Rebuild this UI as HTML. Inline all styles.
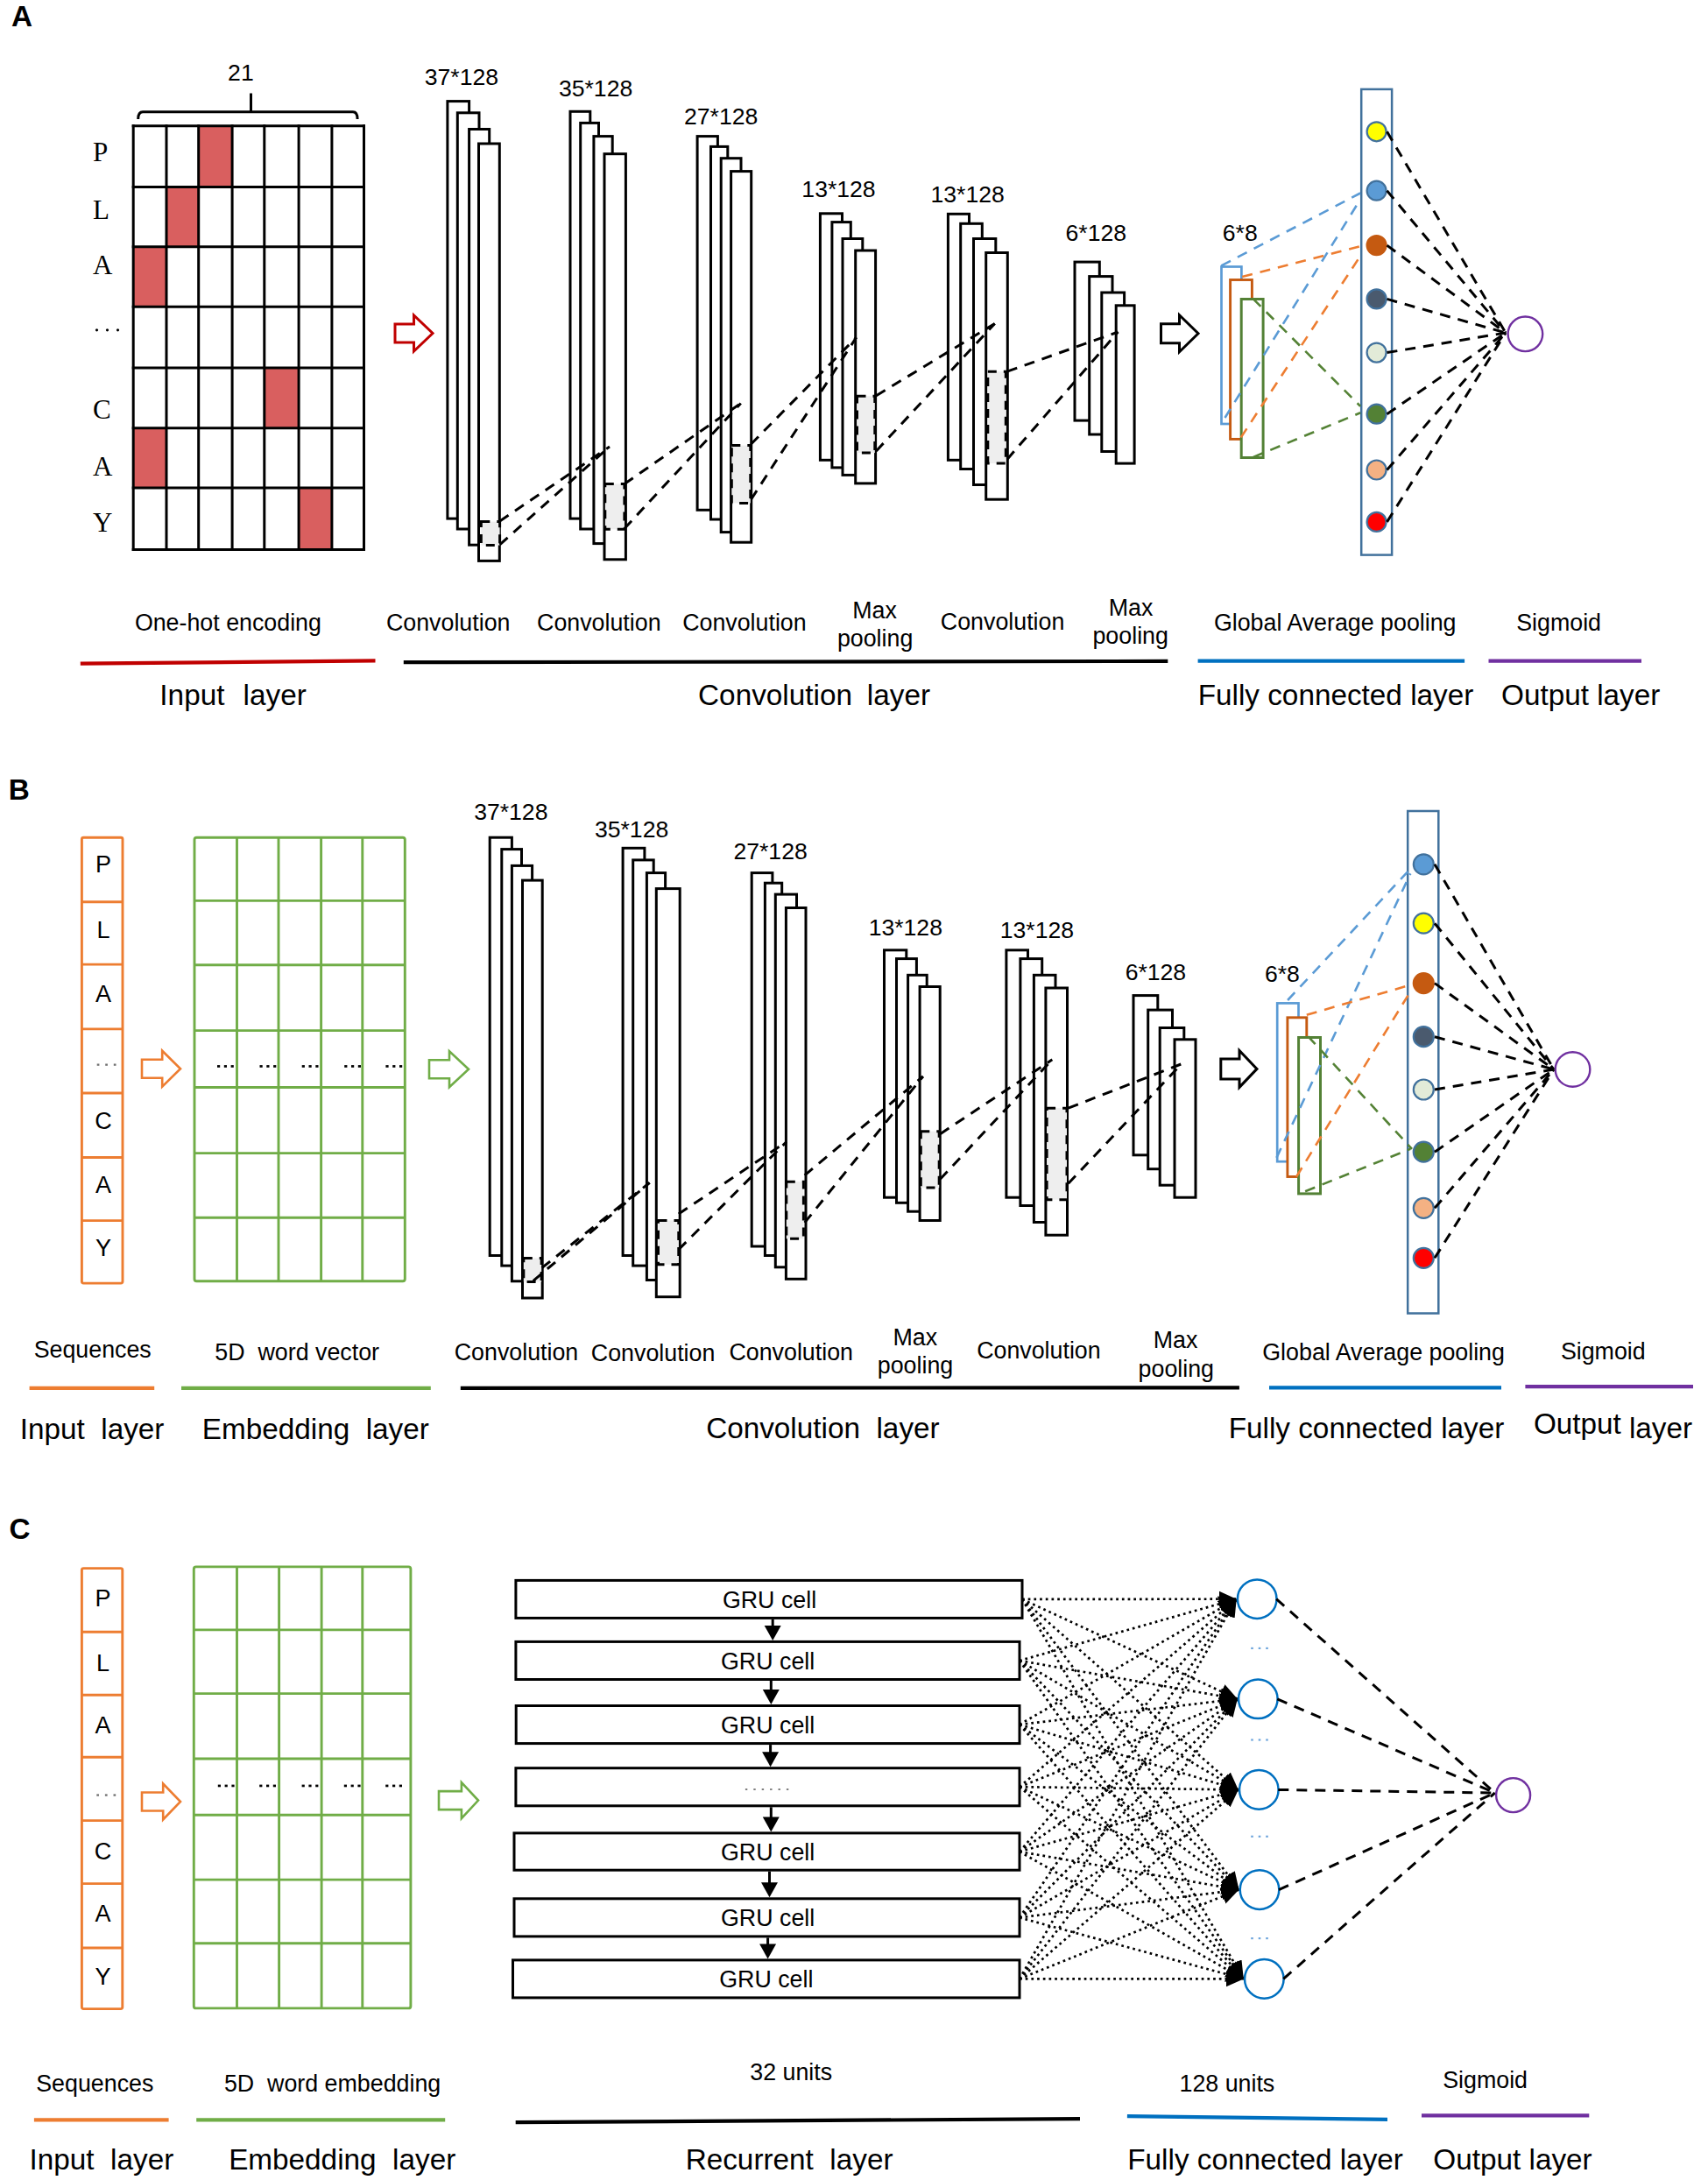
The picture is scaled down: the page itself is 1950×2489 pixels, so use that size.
<!DOCTYPE html>
<html><head><meta charset="utf-8"><title>Model architecture</title>
<style>html,body{margin:0;padding:0;background:#fff;}svg{display:block;}</style>
</head><body>
<svg width="1950" height="2489" viewBox="0 0 1950 2489" stroke-linecap="butt">
<defs><marker id="ah" markerUnits="userSpaceOnUse" viewBox="-20 -10 20 20" markerWidth="20" markerHeight="20" refX="0" refY="0" orient="auto"><path d="M0 0 L-20 -9 L-20 9 Z" fill="#000"/></marker></defs>
<rect width="1950" height="2489" fill="#fff"/>
<text x="24.9" y="29.9" font-size="33.3" text-anchor="middle" font-family='"Liberation Sans", sans-serif' fill="#000" font-weight="bold" >A</text>
<text x="274.9" y="91.8" font-size="26.6" text-anchor="middle" font-family='"Liberation Sans", sans-serif' fill="#000" >21</text>
<path d="M157.7 136 Q157.7 127.7 163 127.7 L403 127.7 Q408.1 127.7 408.1 136" fill="none" stroke="#000" stroke-width="3" />
<line x1="286.5" y1="106.5" x2="286.5" y2="128" stroke="#000" stroke-width="3" />
<rect x="226.7" y="143.8" width="38.4" height="69.7" fill="#d95f5f"/>
<rect x="190" y="213.5" width="36.7" height="68.2" fill="#d95f5f"/>
<rect x="152.2" y="281.7" width="37.8" height="68.5" fill="#d95f5f"/>
<rect x="301.8" y="420.1" width="39.3" height="68.7" fill="#d95f5f"/>
<rect x="152.2" y="488.8" width="37.8" height="68.1" fill="#d95f5f"/>
<rect x="341.1" y="556.9" width="37.8" height="70.5" fill="#d95f5f"/>
<line x1="152.2" y1="142.3" x2="152.2" y2="628.9" stroke="#000" stroke-width="3" />
<line x1="190" y1="142.3" x2="190" y2="628.9" stroke="#000" stroke-width="3" />
<line x1="226.7" y1="142.3" x2="226.7" y2="628.9" stroke="#000" stroke-width="3" />
<line x1="265.1" y1="142.3" x2="265.1" y2="628.9" stroke="#000" stroke-width="3" />
<line x1="301.8" y1="142.3" x2="301.8" y2="628.9" stroke="#000" stroke-width="3" />
<line x1="341.1" y1="142.3" x2="341.1" y2="628.9" stroke="#000" stroke-width="3" />
<line x1="378.9" y1="142.3" x2="378.9" y2="628.9" stroke="#000" stroke-width="3" />
<line x1="415.5" y1="142.3" x2="415.5" y2="628.9" stroke="#000" stroke-width="3" />
<line x1="150.7" y1="143.8" x2="417" y2="143.8" stroke="#000" stroke-width="3" />
<line x1="150.7" y1="213.5" x2="417" y2="213.5" stroke="#000" stroke-width="3" />
<line x1="150.7" y1="281.7" x2="417" y2="281.7" stroke="#000" stroke-width="3" />
<line x1="150.7" y1="350.2" x2="417" y2="350.2" stroke="#000" stroke-width="3" />
<line x1="150.7" y1="420.1" x2="417" y2="420.1" stroke="#000" stroke-width="3" />
<line x1="150.7" y1="488.8" x2="417" y2="488.8" stroke="#000" stroke-width="3" />
<line x1="150.7" y1="556.9" x2="417" y2="556.9" stroke="#000" stroke-width="3" />
<line x1="150.7" y1="627.4" x2="417" y2="627.4" stroke="#000" stroke-width="3" />
<text x="106" y="184" font-size="31" text-anchor="start" font-family='"Liberation Serif", serif' fill="#000" >P</text>
<text x="106" y="249.5" font-size="31" text-anchor="start" font-family='"Liberation Serif", serif' fill="#000" >L</text>
<text x="106" y="313.3" font-size="31" text-anchor="start" font-family='"Liberation Serif", serif' fill="#000" >A</text>
<text x="106" y="478.2" font-size="31" text-anchor="start" font-family='"Liberation Serif", serif' fill="#000" >C</text>
<text x="106" y="543.3" font-size="31" text-anchor="start" font-family='"Liberation Serif", serif' fill="#000" >A</text>
<text x="106" y="606.8" font-size="31" text-anchor="start" font-family='"Liberation Serif", serif' fill="#000" >Y</text>
<circle cx="110.5" cy="376.8" r="1.6" fill="#000"/>
<circle cx="122.5" cy="376.8" r="1.6" fill="#000"/>
<circle cx="134.5" cy="376.8" r="1.6" fill="#000"/>
<path d="M451 370 L472.5 370 L472.5 360 L494 380.5 L472.5 401 L472.5 391 L451 391 Z" fill="#fff" stroke="#c00000" stroke-width="3" stroke-linejoin="miter"/>
<rect x="510.9" y="115.6" width="24.7" height="476.5" fill="#fff" stroke="#000" stroke-width="3" />
<rect x="522.3" y="128.8" width="24.7" height="475.2" fill="#fff" stroke="#000" stroke-width="3" />
<rect x="535.6" y="147.5" width="23.1" height="474.7" fill="#fff" stroke="#000" stroke-width="3" />
<rect x="546.5" y="164" width="23.8" height="476.4" fill="#fff" stroke="#000" stroke-width="3" />
<rect x="651" y="127.3" width="22.8" height="464.8" fill="#fff" stroke="#000" stroke-width="3" />
<rect x="662.7" y="140.4" width="20.8" height="463.6" fill="#fff" stroke="#000" stroke-width="3" />
<rect x="677.9" y="155.6" width="21.3" height="465" fill="#fff" stroke="#000" stroke-width="3" />
<rect x="690" y="175.7" width="24.4" height="463.1" fill="#fff" stroke="#000" stroke-width="3" />
<rect x="796.1" y="155.6" width="23.3" height="426.7" fill="#fff" stroke="#000" stroke-width="3" />
<rect x="811.5" y="167.4" width="19.3" height="425.6" fill="#fff" stroke="#000" stroke-width="3" />
<rect x="823.2" y="180.7" width="22.8" height="426.9" fill="#fff" stroke="#000" stroke-width="3" />
<rect x="834.6" y="195.6" width="23.1" height="423.6" fill="#fff" stroke="#000" stroke-width="3" />
<rect x="936.4" y="243.8" width="25.1" height="281.5" fill="#fff" stroke="#000" stroke-width="3" />
<rect x="949.9" y="253.6" width="21.4" height="280.3" fill="#fff" stroke="#000" stroke-width="3" />
<rect x="962" y="272.5" width="22.8" height="269.9" fill="#fff" stroke="#000" stroke-width="3" />
<rect x="976.7" y="286" width="22.9" height="265.9" fill="#fff" stroke="#000" stroke-width="3" />
<rect x="1082.4" y="244.3" width="24.1" height="281" fill="#fff" stroke="#000" stroke-width="3" />
<rect x="1096.7" y="255.3" width="24.6" height="280.2" fill="#fff" stroke="#000" stroke-width="3" />
<rect x="1111.5" y="272.5" width="25.3" height="281" fill="#fff" stroke="#000" stroke-width="3" />
<rect x="1125.7" y="288.5" width="24.6" height="281.7" fill="#fff" stroke="#000" stroke-width="3" />
<rect x="1227" y="299.1" width="28.3" height="181" fill="#fff" stroke="#000" stroke-width="3" />
<rect x="1243.7" y="315.6" width="26.3" height="180.4" fill="#fff" stroke="#000" stroke-width="3" />
<rect x="1257.8" y="334" width="25.8" height="181.5" fill="#fff" stroke="#000" stroke-width="3" />
<rect x="1274.2" y="348.8" width="20.9" height="180.3" fill="#fff" stroke="#000" stroke-width="3" />
<text x="526.9" y="97" font-size="26.6" text-anchor="middle" font-family='"Liberation Sans", sans-serif' fill="#000" >37*128</text>
<text x="680.1" y="110.2" font-size="26.6" text-anchor="middle" font-family='"Liberation Sans", sans-serif' fill="#000" >35*128</text>
<text x="823.2" y="141.9" font-size="26.6" text-anchor="middle" font-family='"Liberation Sans", sans-serif' fill="#000" >27*128</text>
<text x="957.5" y="225.4" font-size="26.6" text-anchor="middle" font-family='"Liberation Sans", sans-serif' fill="#000" >13*128</text>
<text x="1104.7" y="230.7" font-size="26.6" text-anchor="middle" font-family='"Liberation Sans", sans-serif' fill="#000" >13*128</text>
<text x="1251.3" y="275" font-size="26.6" text-anchor="middle" font-family='"Liberation Sans", sans-serif' fill="#000" >6*128</text>
<rect x="549.3" y="595.6" width="21.3" height="26.9" fill="#eeeeee" stroke="none" stroke-width="0" />
<rect x="549.3" y="595.6" width="21.3" height="26.9" fill="none" stroke="#000" stroke-width="3" stroke-dasharray="10 8"/>
<rect x="690.8" y="552.5" width="22.1" height="51.8" fill="#eeeeee" stroke="none" stroke-width="0" />
<rect x="690.8" y="552.5" width="22.1" height="51.8" fill="none" stroke="#000" stroke-width="3" stroke-dasharray="10 8"/>
<rect x="835.3" y="508.6" width="21.5" height="65.8" fill="#eeeeee" stroke="none" stroke-width="0" />
<rect x="835.3" y="508.6" width="21.5" height="65.8" fill="none" stroke="#000" stroke-width="3" stroke-dasharray="10 8"/>
<rect x="978.5" y="452.3" width="20.3" height="64.8" fill="#eeeeee" stroke="none" stroke-width="0" />
<rect x="978.5" y="452.3" width="20.3" height="64.8" fill="none" stroke="#000" stroke-width="3" stroke-dasharray="10 8"/>
<rect x="1127.8" y="424.2" width="20.5" height="104.9" fill="#eeeeee" stroke="none" stroke-width="0" />
<rect x="1127.8" y="424.2" width="20.5" height="104.9" fill="none" stroke="#000" stroke-width="3" stroke-dasharray="10 8"/>
<line x1="570.6" y1="595.1" x2="696" y2="510" stroke="#000" stroke-width="3" stroke-dasharray="12 9" />
<line x1="570.6" y1="621.8" x2="696" y2="510" stroke="#000" stroke-width="3" stroke-dasharray="12 9" />
<line x1="712.9" y1="552.5" x2="845.8" y2="460.5" stroke="#000" stroke-width="3" stroke-dasharray="12 9" />
<line x1="712.9" y1="603.5" x2="845.8" y2="460.5" stroke="#000" stroke-width="3" stroke-dasharray="12 9" />
<line x1="857.5" y1="507" x2="977.6" y2="385.3" stroke="#000" stroke-width="3" stroke-dasharray="12 9" />
<line x1="857.5" y1="570.2" x2="977.6" y2="385.3" stroke="#000" stroke-width="3" stroke-dasharray="12 9" />
<line x1="1000.4" y1="451.7" x2="1135.7" y2="369.5" stroke="#000" stroke-width="3" stroke-dasharray="12 9" />
<line x1="1000.4" y1="514.9" x2="1135.7" y2="369.5" stroke="#000" stroke-width="3" stroke-dasharray="12 9" />
<line x1="1149.9" y1="424.2" x2="1276.4" y2="379" stroke="#000" stroke-width="3" stroke-dasharray="12 9" />
<line x1="1149.9" y1="524.4" x2="1276.4" y2="379" stroke="#000" stroke-width="3" stroke-dasharray="12 9" />
<path d="M1325.5 369.7 L1346.5 369.7 L1346.5 359.7 L1368 380.7 L1346.5 401.7 L1346.5 391.7 L1325.5 391.7 Z" fill="#fff" stroke="#000" stroke-width="3" stroke-linejoin="miter"/>
<rect x="1394.5" y="304.5" width="22.9" height="179.5" fill="#fff" stroke="#5b9bd5" stroke-width="2.7" />
<rect x="1404.6" y="319.5" width="24.8" height="181.9" fill="#fff" stroke="#c55a11" stroke-width="2.9" />
<rect x="1417.2" y="341.5" width="24.9" height="181" fill="#fff" stroke="#538135" stroke-width="3" />
<text x="1415.8" y="274.8" font-size="26.6" text-anchor="middle" font-family='"Liberation Sans", sans-serif' fill="#000" >6*8</text>
<rect x="1554.2" y="101.9" width="34.9" height="531.7" fill="#fff" stroke="#41719c" stroke-width="2.5" />
<line x1="1394.3" y1="303.4" x2="1553.1" y2="220.5" stroke="#5b9bd5" stroke-width="2.6" stroke-dasharray="12 9" />
<line x1="1398.5" y1="477" x2="1553.1" y2="227.6" stroke="#5b9bd5" stroke-width="2.6" stroke-dasharray="12 9" />
<line x1="1418.2" y1="316.1" x2="1556.8" y2="280.1" stroke="#ed7d31" stroke-width="2.6" stroke-dasharray="12 9" />
<line x1="1416.8" y1="499.4" x2="1553.1" y2="292.2" stroke="#ed7d31" stroke-width="2.6" stroke-dasharray="12 9" />
<line x1="1430.9" y1="341.4" x2="1553.1" y2="463.8" stroke="#548235" stroke-width="2.6" stroke-dasharray="12 9" />
<line x1="1430.9" y1="521.9" x2="1553.1" y2="471.3" stroke="#548235" stroke-width="2.6" stroke-dasharray="12 9" />
<circle cx="1571.6" cy="150.3" r="11" fill="#ffff00" stroke="#41719c" stroke-width="2.2"/>
<circle cx="1571.6" cy="217.7" r="11" fill="#5b9bd5" stroke="#41719c" stroke-width="2.2"/>
<circle cx="1571.6" cy="280.1" r="11" fill="#c55a11" stroke="#c55a11" stroke-width="2.2"/>
<circle cx="1571.6" cy="341.4" r="11" fill="#4a5a6e" stroke="#41719c" stroke-width="2.2"/>
<circle cx="1571.6" cy="402.6" r="11" fill="#e2ebd8" stroke="#41719c" stroke-width="2.2"/>
<circle cx="1571.6" cy="472.7" r="11" fill="#538135" stroke="#41719c" stroke-width="2.2"/>
<circle cx="1571.6" cy="536.5" r="11" fill="#f4b183" stroke="#41719c" stroke-width="2.2"/>
<circle cx="1571.6" cy="595.9" r="11" fill="#ff0000" stroke="#41719c" stroke-width="2.2"/>
<circle cx="1741.4" cy="381.3" r="19.8" fill="none" stroke="#7030a0" stroke-width="2.4"/>
<line x1="1583.5" y1="150.3" x2="1719" y2="380" stroke="#000" stroke-width="3" stroke-dasharray="12 9" />
<line x1="1583.5" y1="217.7" x2="1719" y2="380" stroke="#000" stroke-width="3" stroke-dasharray="12 9" />
<line x1="1583.5" y1="280.1" x2="1719" y2="380" stroke="#000" stroke-width="3" stroke-dasharray="12 9" />
<line x1="1583.5" y1="341.4" x2="1719" y2="380" stroke="#000" stroke-width="3" stroke-dasharray="12 9" />
<line x1="1583.5" y1="402.6" x2="1719" y2="380" stroke="#000" stroke-width="3" stroke-dasharray="12 9" />
<line x1="1583.5" y1="472.7" x2="1719" y2="380" stroke="#000" stroke-width="3" stroke-dasharray="12 9" />
<line x1="1583.5" y1="536.5" x2="1719" y2="380" stroke="#000" stroke-width="3" stroke-dasharray="12 9" />
<line x1="1583.5" y1="595.9" x2="1719" y2="380" stroke="#000" stroke-width="3" stroke-dasharray="12 9" />
<text x="260.4" y="720" font-size="26.8" text-anchor="middle" font-family='"Liberation Sans", sans-serif' fill="#000" >One-hot encoding</text>
<text x="511.7" y="719.8" font-size="26.8" text-anchor="middle" font-family='"Liberation Sans", sans-serif' fill="#000" >Convolution</text>
<text x="683.8" y="719.8" font-size="26.8" text-anchor="middle" font-family='"Liberation Sans", sans-serif' fill="#000" >Convolution</text>
<text x="849.9" y="719.8" font-size="26.8" text-anchor="middle" font-family='"Liberation Sans", sans-serif' fill="#000" >Convolution</text>
<text x="998.6" y="705.9" font-size="26.8" text-anchor="middle" font-family='"Liberation Sans", sans-serif' fill="#000" >Max</text>
<text x="999.1" y="737.5" font-size="26.8" text-anchor="middle" font-family='"Liberation Sans", sans-serif' fill="#000" >pooling</text>
<text x="1144.6" y="719.2" font-size="26.8" text-anchor="middle" font-family='"Liberation Sans", sans-serif' fill="#000" >Convolution</text>
<text x="1291.1" y="703.1" font-size="26.8" text-anchor="middle" font-family='"Liberation Sans", sans-serif' fill="#000" >Max</text>
<text x="1290.7" y="734.7" font-size="26.8" text-anchor="middle" font-family='"Liberation Sans", sans-serif' fill="#000" >pooling</text>
<text x="1524.2" y="719.9" font-size="26.8" text-anchor="middle" font-family='"Liberation Sans", sans-serif' fill="#000" >Global Average pooling</text>
<text x="1779.6" y="719.9" font-size="26.8" text-anchor="middle" font-family='"Liberation Sans", sans-serif' fill="#000" >Sigmoid</text>
<line x1="91.8" y1="757.7" x2="428.5" y2="754.3" stroke="#c00000" stroke-width="4.2" />
<line x1="460.8" y1="756.2" x2="1333.3" y2="754.9" stroke="#000" stroke-width="4.2" />
<line x1="1367.6" y1="754.7" x2="1672.1" y2="754.7" stroke="#0070c0" stroke-width="4.2" />
<line x1="1699.5" y1="754.7" x2="1874" y2="754.7" stroke="#7030a0" stroke-width="4.2" />
<text x="219.4" y="804.9" font-size="33.3" text-anchor="middle" font-family='"Liberation Sans", sans-serif' fill="#000" >Input</text>
<text x="313.7" y="804.9" font-size="33.3" text-anchor="middle" font-family='"Liberation Sans", sans-serif' fill="#000" >layer</text>
<text x="885" y="805.1" font-size="33.3" text-anchor="middle" font-family='"Liberation Sans", sans-serif' fill="#000" >Convolution</text>
<text x="1025.9" y="805.1" font-size="33.3" text-anchor="middle" font-family='"Liberation Sans", sans-serif' fill="#000" >layer</text>
<text x="1525" y="805.2" font-size="33.3" text-anchor="middle" font-family='"Liberation Sans", sans-serif' fill="#000" >Fully connected layer</text>
<text x="1804.7" y="805.2" font-size="33.3" text-anchor="middle" font-family='"Liberation Sans", sans-serif' fill="#000" >Output layer</text>
<text x="21.7" y="912.8" font-size="33.3" text-anchor="middle" font-family='"Liberation Sans", sans-serif' fill="#000" font-weight="bold" >B</text>
<rect x="93.4" y="956.2" width="46.6" height="508.9" fill="#fff" stroke="#ed7d31" stroke-width="2.9" rx="2"/>
<line x1="93.4" y1="1029.7" x2="140" y2="1029.7" stroke="#ed7d31" stroke-width="2.9" />
<line x1="93.4" y1="1101.1" x2="140" y2="1101.1" stroke="#ed7d31" stroke-width="2.9" />
<line x1="93.4" y1="1174.9" x2="140" y2="1174.9" stroke="#ed7d31" stroke-width="2.9" />
<line x1="93.4" y1="1248" x2="140" y2="1248" stroke="#ed7d31" stroke-width="2.9" />
<line x1="93.4" y1="1321.5" x2="140" y2="1321.5" stroke="#ed7d31" stroke-width="2.9" />
<line x1="93.4" y1="1393.6" x2="140" y2="1393.6" stroke="#ed7d31" stroke-width="2.9" />
<text x="118" y="996.2" font-size="27" text-anchor="middle" font-family='"Liberation Sans", sans-serif' fill="#000" >P</text>
<text x="118" y="1070.7" font-size="27" text-anchor="middle" font-family='"Liberation Sans", sans-serif' fill="#000" >L</text>
<text x="118" y="1143.8" font-size="27" text-anchor="middle" font-family='"Liberation Sans", sans-serif' fill="#000" >A</text>
<text x="118" y="1288.8" font-size="27" text-anchor="middle" font-family='"Liberation Sans", sans-serif' fill="#000" >C</text>
<text x="118" y="1361.8" font-size="27" text-anchor="middle" font-family='"Liberation Sans", sans-serif' fill="#000" >A</text>
<text x="118" y="1434" font-size="27" text-anchor="middle" font-family='"Liberation Sans", sans-serif' fill="#000" >Y</text>
<rect x="110.7" y="1214.5" width="2.7" height="2.3" fill="#707070"/>
<rect x="120.2" y="1214.5" width="2.7" height="2.3" fill="#707070"/>
<rect x="129.8" y="1214.5" width="2.7" height="2.3" fill="#707070"/>
<path d="M162 1209.7 L185.2 1209.7 L185.2 1199.7 L206 1220.2 L185.2 1240.7 L185.2 1230.7 L162 1230.7 Z" fill="#fff" stroke="#ed7d31" stroke-width="2.6" stroke-linejoin="miter"/>
<line x1="270.5" y1="956.2" x2="270.5" y2="1462.8" stroke="#70ad47" stroke-width="2.9" />
<line x1="318" y1="956.2" x2="318" y2="1462.8" stroke="#70ad47" stroke-width="2.9" />
<line x1="366.6" y1="956.2" x2="366.6" y2="1462.8" stroke="#70ad47" stroke-width="2.9" />
<line x1="413.8" y1="956.2" x2="413.8" y2="1462.8" stroke="#70ad47" stroke-width="2.9" />
<line x1="222" y1="1028.4" x2="462.3" y2="1028.4" stroke="#70ad47" stroke-width="2.9" />
<line x1="222" y1="1101.8" x2="462.3" y2="1101.8" stroke="#70ad47" stroke-width="2.9" />
<line x1="222" y1="1176.6" x2="462.3" y2="1176.6" stroke="#70ad47" stroke-width="2.9" />
<line x1="222" y1="1241.5" x2="462.3" y2="1241.5" stroke="#70ad47" stroke-width="2.9" />
<line x1="222" y1="1316.6" x2="462.3" y2="1316.6" stroke="#70ad47" stroke-width="2.9" />
<line x1="222" y1="1390.3" x2="462.3" y2="1390.3" stroke="#70ad47" stroke-width="2.9" />
<rect x="222" y="956.2" width="240.3" height="506.6" fill="none" stroke="#70ad47" stroke-width="2.9" rx="2.5"/>
<rect x="248" y="1216.1" width="3.2" height="2.7" fill="#000"/>
<rect x="255.8" y="1216.1" width="3.2" height="2.7" fill="#000"/>
<rect x="263.6" y="1216.1" width="3.2" height="2.7" fill="#000"/>
<rect x="296.5" y="1216.1" width="3.2" height="2.7" fill="#000"/>
<rect x="304.3" y="1216.1" width="3.2" height="2.7" fill="#000"/>
<rect x="312.1" y="1216.1" width="3.2" height="2.7" fill="#000"/>
<rect x="344.7" y="1216.1" width="3.2" height="2.7" fill="#000"/>
<rect x="352.5" y="1216.1" width="3.2" height="2.7" fill="#000"/>
<rect x="360.3" y="1216.1" width="3.2" height="2.7" fill="#000"/>
<rect x="393.2" y="1216.1" width="3.2" height="2.7" fill="#000"/>
<rect x="401" y="1216.1" width="3.2" height="2.7" fill="#000"/>
<rect x="408.8" y="1216.1" width="3.2" height="2.7" fill="#000"/>
<rect x="440.4" y="1216.1" width="3.2" height="2.7" fill="#000"/>
<rect x="448.2" y="1216.1" width="3.2" height="2.7" fill="#000"/>
<rect x="456" y="1216.1" width="3.2" height="2.7" fill="#000"/>
<path d="M490 1210.3 L513 1210.3 L513 1200.3 L535 1220.8 L513 1241.3 L513 1231.3 L490 1231.3 Z" fill="#fff" stroke="#70ad47" stroke-width="2.6" stroke-linejoin="miter"/>
<rect x="559.2" y="956.2" width="25.2" height="477.3" fill="#fff" stroke="#000" stroke-width="3" />
<rect x="572.8" y="969.6" width="22.7" height="475.5" fill="#fff" stroke="#000" stroke-width="3" />
<rect x="584.4" y="988.4" width="23.2" height="474.4" fill="#fff" stroke="#000" stroke-width="3" />
<rect x="596.5" y="1005.1" width="22.7" height="476.9" fill="#fff" stroke="#000" stroke-width="3" />
<rect x="711.1" y="968.3" width="24.8" height="465.2" fill="#fff" stroke="#000" stroke-width="3" />
<rect x="722.7" y="981.9" width="23.5" height="463.2" fill="#fff" stroke="#000" stroke-width="3" />
<rect x="738.4" y="996.6" width="21.2" height="464.9" fill="#fff" stroke="#000" stroke-width="3" />
<rect x="749.3" y="1014.6" width="26.9" height="466.1" fill="#fff" stroke="#000" stroke-width="3" />
<rect x="858.2" y="996.6" width="23.7" height="426.4" fill="#fff" stroke="#000" stroke-width="3" />
<rect x="873.4" y="1008.2" width="19.3" height="425.3" fill="#fff" stroke="#000" stroke-width="3" />
<rect x="885.3" y="1021.1" width="24.2" height="425.7" fill="#fff" stroke="#000" stroke-width="3" />
<rect x="897.4" y="1036.5" width="22.6" height="423.8" fill="#fff" stroke="#000" stroke-width="3" />
<rect x="1009.5" y="1084.8" width="25.3" height="282.4" fill="#fff" stroke="#000" stroke-width="3" />
<rect x="1023.5" y="1094.6" width="22.9" height="278.7" fill="#fff" stroke="#000" stroke-width="3" />
<rect x="1036.6" y="1113.3" width="21.6" height="269.9" fill="#fff" stroke="#000" stroke-width="3" />
<rect x="1050.1" y="1126.5" width="23.1" height="267" fill="#fff" stroke="#000" stroke-width="3" />
<rect x="1148.9" y="1084.8" width="24.6" height="282.4" fill="#fff" stroke="#000" stroke-width="3" />
<rect x="1164.9" y="1094.6" width="24.8" height="281.9" fill="#fff" stroke="#000" stroke-width="3" />
<rect x="1180.4" y="1113.3" width="24.6" height="282.2" fill="#fff" stroke="#000" stroke-width="3" />
<rect x="1193.9" y="1128" width="24.6" height="282.2" fill="#fff" stroke="#000" stroke-width="3" />
<rect x="1294" y="1136.6" width="27.8" height="182.2" fill="#fff" stroke="#000" stroke-width="3" />
<rect x="1310.7" y="1153.1" width="27.8" height="181.6" fill="#fff" stroke="#000" stroke-width="3" />
<rect x="1324.2" y="1173.5" width="27.6" height="179.7" fill="#fff" stroke="#000" stroke-width="3" />
<rect x="1341" y="1186.8" width="24" height="180.4" fill="#fff" stroke="#000" stroke-width="3" />
<text x="583.3" y="936.1" font-size="26.6" text-anchor="middle" font-family='"Liberation Sans", sans-serif' fill="#000" >37*128</text>
<text x="721.1" y="956.2" font-size="26.6" text-anchor="middle" font-family='"Liberation Sans", sans-serif' fill="#000" >35*128</text>
<text x="879.6" y="981.1" font-size="26.6" text-anchor="middle" font-family='"Liberation Sans", sans-serif' fill="#000" >27*128</text>
<text x="1033.8" y="1067.5" font-size="26.6" text-anchor="middle" font-family='"Liberation Sans", sans-serif' fill="#000" >13*128</text>
<text x="1183.9" y="1070.7" font-size="26.6" text-anchor="middle" font-family='"Liberation Sans", sans-serif' fill="#000" >13*128</text>
<text x="1319.4" y="1119.2" font-size="26.6" text-anchor="middle" font-family='"Liberation Sans", sans-serif' fill="#000" >6*128</text>
<rect x="597.8" y="1436.5" width="20.4" height="27" fill="#eeeeee" stroke="none" stroke-width="0" />
<rect x="597.8" y="1436.5" width="20.4" height="27" fill="none" stroke="#000" stroke-width="3" stroke-dasharray="10 8"/>
<rect x="751.5" y="1393.4" width="23.3" height="50.4" fill="#eeeeee" stroke="none" stroke-width="0" />
<rect x="751.5" y="1393.4" width="23.3" height="50.4" fill="none" stroke="#000" stroke-width="3" stroke-dasharray="10 8"/>
<rect x="897.8" y="1349.2" width="19.6" height="65.1" fill="#eeeeee" stroke="none" stroke-width="0" />
<rect x="897.8" y="1349.2" width="19.6" height="65.1" fill="none" stroke="#000" stroke-width="3" stroke-dasharray="10 8"/>
<rect x="1051.3" y="1291.7" width="20.9" height="64.4" fill="#eeeeee" stroke="none" stroke-width="0" />
<rect x="1051.3" y="1291.7" width="20.9" height="64.4" fill="none" stroke="#000" stroke-width="3" stroke-dasharray="10 8"/>
<rect x="1195.1" y="1265.2" width="22.9" height="104.5" fill="#eeeeee" stroke="none" stroke-width="0" />
<rect x="1195.1" y="1265.2" width="22.9" height="104.5" fill="none" stroke="#000" stroke-width="3" stroke-dasharray="10 8"/>
<line x1="618.7" y1="1447.5" x2="741.6" y2="1350.4" stroke="#000" stroke-width="3" stroke-dasharray="12 9" />
<line x1="608.8" y1="1462.3" x2="741.6" y2="1350.4" stroke="#000" stroke-width="3" stroke-dasharray="12 9" />
<line x1="774.8" y1="1386" x2="897.8" y2="1303.7" stroke="#000" stroke-width="3" stroke-dasharray="12 9" />
<line x1="774.8" y1="1426.6" x2="897.8" y2="1303.7" stroke="#000" stroke-width="3" stroke-dasharray="12 9" />
<line x1="918.7" y1="1341.8" x2="1053.8" y2="1229" stroke="#000" stroke-width="3" stroke-dasharray="12 9" />
<line x1="918.7" y1="1395.9" x2="1053.8" y2="1229" stroke="#000" stroke-width="3" stroke-dasharray="12 9" />
<line x1="1073.4" y1="1294.7" x2="1201.3" y2="1209.8" stroke="#000" stroke-width="3" stroke-dasharray="12 9" />
<line x1="1073.4" y1="1346.3" x2="1201.3" y2="1209.8" stroke="#000" stroke-width="3" stroke-dasharray="12 9" />
<line x1="1219.7" y1="1265.2" x2="1348.8" y2="1214.8" stroke="#000" stroke-width="3" stroke-dasharray="12 9" />
<line x1="1219.7" y1="1351.2" x2="1348.8" y2="1214.8" stroke="#000" stroke-width="3" stroke-dasharray="12 9" />
<path d="M1393.8 1208.9 L1415 1208.9 L1415 1199.4 L1435 1220.4 L1415 1241.4 L1415 1231.9 L1393.8 1231.9 Z" fill="#fff" stroke="#000" stroke-width="3" stroke-linejoin="miter"/>
<rect x="1458.2" y="1145.4" width="24.3" height="180.8" fill="#fff" stroke="#5b9bd5" stroke-width="2.7" />
<rect x="1469.9" y="1161.8" width="21.9" height="181.7" fill="#fff" stroke="#c55a11" stroke-width="2.9" />
<rect x="1482.6" y="1184.5" width="24.9" height="178.4" fill="#fff" stroke="#538135" stroke-width="3" />
<text x="1463.9" y="1121.3" font-size="26.6" text-anchor="middle" font-family='"Liberation Sans", sans-serif' fill="#000" >6*8</text>
<rect x="1607.2" y="926" width="35.1" height="573.5" fill="#fff" stroke="#41719c" stroke-width="2.5" />
<line x1="1470.1" y1="1142" x2="1612" y2="990.1" stroke="#5b9bd5" stroke-width="2.6" stroke-dasharray="12 9" />
<line x1="1457.4" y1="1321.9" x2="1610.3" y2="997.4" stroke="#5b9bd5" stroke-width="2.6" stroke-dasharray="12 9" />
<line x1="1491.8" y1="1158.7" x2="1610.3" y2="1124.6" stroke="#ed7d31" stroke-width="2.6" stroke-dasharray="12 9" />
<line x1="1480.1" y1="1343.5" x2="1610.3" y2="1132" stroke="#ed7d31" stroke-width="2.6" stroke-dasharray="12 9" />
<line x1="1493.5" y1="1183.3" x2="1612" y2="1311.8" stroke="#548235" stroke-width="2.6" stroke-dasharray="12 9" />
<line x1="1490.1" y1="1360.2" x2="1610.3" y2="1311.8" stroke="#548235" stroke-width="2.6" stroke-dasharray="12 9" />
<circle cx="1625.3" cy="986.8" r="11.5" fill="#5b9bd5" stroke="#41719c" stroke-width="2.2"/>
<circle cx="1625.3" cy="1054.2" r="11.5" fill="#ffff00" stroke="#41719c" stroke-width="2.2"/>
<circle cx="1625.3" cy="1122.6" r="11.5" fill="#c55a11" stroke="#c55a11" stroke-width="2.2"/>
<circle cx="1625.3" cy="1183.7" r="11.5" fill="#4a5a6e" stroke="#41719c" stroke-width="2.2"/>
<circle cx="1625.3" cy="1244" r="11.5" fill="#e2ebd8" stroke="#41719c" stroke-width="2.2"/>
<circle cx="1625.3" cy="1315.2" r="11.5" fill="#538135" stroke="#41719c" stroke-width="2.2"/>
<circle cx="1625.3" cy="1379.3" r="11.5" fill="#f4b183" stroke="#41719c" stroke-width="2.2"/>
<circle cx="1625.3" cy="1436.3" r="11.5" fill="#ff0000" stroke="#41719c" stroke-width="2.2"/>
<circle cx="1795.5" cy="1221" r="19.8" fill="none" stroke="#7030a0" stroke-width="2.4"/>
<line x1="1638" y1="986.8" x2="1774" y2="1221" stroke="#000" stroke-width="3" stroke-dasharray="12 9" />
<line x1="1638" y1="1054.2" x2="1774" y2="1221" stroke="#000" stroke-width="3" stroke-dasharray="12 9" />
<line x1="1638" y1="1122.6" x2="1774" y2="1221" stroke="#000" stroke-width="3" stroke-dasharray="12 9" />
<line x1="1638" y1="1183.7" x2="1774" y2="1221" stroke="#000" stroke-width="3" stroke-dasharray="12 9" />
<line x1="1638" y1="1244" x2="1774" y2="1221" stroke="#000" stroke-width="3" stroke-dasharray="12 9" />
<line x1="1638" y1="1315.2" x2="1774" y2="1221" stroke="#000" stroke-width="3" stroke-dasharray="12 9" />
<line x1="1638" y1="1379.3" x2="1774" y2="1221" stroke="#000" stroke-width="3" stroke-dasharray="12 9" />
<line x1="1638" y1="1436.3" x2="1774" y2="1221" stroke="#000" stroke-width="3" stroke-dasharray="12 9" />
<text x="105.7" y="1550.4" font-size="26.8" text-anchor="middle" font-family='"Liberation Sans", sans-serif' fill="#000" >Sequences</text>
<text x="339.2" y="1553.3" font-size="26.8" text-anchor="middle" font-family='"Liberation Sans", sans-serif' fill="#000" >5D&#160;&#160;word vector</text>
<text x="589.5" y="1553.3" font-size="26.8" text-anchor="middle" font-family='"Liberation Sans", sans-serif' fill="#000" >Convolution</text>
<text x="745.6" y="1553.9" font-size="26.8" text-anchor="middle" font-family='"Liberation Sans", sans-serif' fill="#000" >Convolution</text>
<text x="903.2" y="1552.5" font-size="26.8" text-anchor="middle" font-family='"Liberation Sans", sans-serif' fill="#000" >Convolution</text>
<text x="1044.8" y="1536" font-size="26.8" text-anchor="middle" font-family='"Liberation Sans", sans-serif' fill="#000" >Max</text>
<text x="1045" y="1567.9" font-size="26.8" text-anchor="middle" font-family='"Liberation Sans", sans-serif' fill="#000" >pooling</text>
<text x="1185.9" y="1550.6" font-size="26.8" text-anchor="middle" font-family='"Liberation Sans", sans-serif' fill="#000" >Convolution</text>
<text x="1342" y="1538.9" font-size="26.8" text-anchor="middle" font-family='"Liberation Sans", sans-serif' fill="#000" >Max</text>
<text x="1342.8" y="1571.7" font-size="26.8" text-anchor="middle" font-family='"Liberation Sans", sans-serif' fill="#000" >pooling</text>
<text x="1579.6" y="1553.1" font-size="26.8" text-anchor="middle" font-family='"Liberation Sans", sans-serif' fill="#000" >Global Average pooling</text>
<text x="1830.3" y="1551.5" font-size="26.8" text-anchor="middle" font-family='"Liberation Sans", sans-serif' fill="#000" >Sigmoid</text>
<line x1="33.6" y1="1584.8" x2="176.2" y2="1584.8" stroke="#ed7d31" stroke-width="4.2" />
<line x1="207" y1="1584.8" x2="491.8" y2="1584.8" stroke="#70ad47" stroke-width="4.2" />
<line x1="525.8" y1="1584.8" x2="1414.9" y2="1584.3" stroke="#000" stroke-width="4.2" />
<line x1="1449" y1="1584.4" x2="1714" y2="1584.4" stroke="#0070c0" stroke-width="4.2" />
<line x1="1741.4" y1="1583.1" x2="1933" y2="1583.1" stroke="#7030a0" stroke-width="4.2" />
<text x="105.1" y="1642.6" font-size="33.3" text-anchor="middle" font-family='"Liberation Sans", sans-serif' fill="#000" >Input&#160;&#160;layer</text>
<text x="360.3" y="1642.6" font-size="33.3" text-anchor="middle" font-family='"Liberation Sans", sans-serif' fill="#000" >Embedding&#160;&#160;layer</text>
<text x="939.4" y="1641.5" font-size="33.3" text-anchor="middle" font-family='"Liberation Sans", sans-serif' fill="#000" >Convolution&#160;&#160;layer</text>
<text x="1560" y="1641.7" font-size="33.3" text-anchor="middle" font-family='"Liberation Sans", sans-serif' fill="#000" >Fully connected layer</text>
<text x="1800.9" y="1636.9" font-size="33.3" text-anchor="middle" font-family='"Liberation Sans", sans-serif' fill="#000" >Output</text>
<text x="1896" y="1641.7" font-size="33.3" text-anchor="middle" font-family='"Liberation Sans", sans-serif' fill="#000" >layer</text>
<text x="22.6" y="1756.9" font-size="33.3" text-anchor="middle" font-family='"Liberation Sans", sans-serif' fill="#000" font-weight="bold" >C</text>
<rect x="93.4" y="1790.6" width="46.4" height="503" fill="#fff" stroke="#ed7d31" stroke-width="2.9" rx="2"/>
<line x1="93.4" y1="1863.3" x2="139.8" y2="1863.3" stroke="#ed7d31" stroke-width="2.9" />
<line x1="93.4" y1="1935.3" x2="139.8" y2="1935.3" stroke="#ed7d31" stroke-width="2.9" />
<line x1="93.4" y1="2006.3" x2="139.8" y2="2006.3" stroke="#ed7d31" stroke-width="2.9" />
<line x1="93.4" y1="2078.6" x2="139.8" y2="2078.6" stroke="#ed7d31" stroke-width="2.9" />
<line x1="93.4" y1="2150.6" x2="139.8" y2="2150.6" stroke="#ed7d31" stroke-width="2.9" />
<line x1="93.4" y1="2224" x2="139.8" y2="2224" stroke="#ed7d31" stroke-width="2.9" />
<text x="117.6" y="1833.5" font-size="27" text-anchor="middle" font-family='"Liberation Sans", sans-serif' fill="#000" >P</text>
<text x="117.6" y="1907.9" font-size="27" text-anchor="middle" font-family='"Liberation Sans", sans-serif' fill="#000" >L</text>
<text x="117.6" y="1979.2" font-size="27" text-anchor="middle" font-family='"Liberation Sans", sans-serif' fill="#000" >A</text>
<text x="117.6" y="2123.3" font-size="27" text-anchor="middle" font-family='"Liberation Sans", sans-serif' fill="#000" >C</text>
<text x="117.6" y="2193.5" font-size="27" text-anchor="middle" font-family='"Liberation Sans", sans-serif' fill="#000" >A</text>
<text x="117.6" y="2266.2" font-size="27" text-anchor="middle" font-family='"Liberation Sans", sans-serif' fill="#000" >Y</text>
<rect x="110.3" y="2048.4" width="2.7" height="2.3" fill="#707070"/>
<rect x="119.9" y="2048.4" width="2.7" height="2.3" fill="#707070"/>
<rect x="129.5" y="2048.4" width="2.7" height="2.3" fill="#707070"/>
<path d="M162 2046.5 L186.2 2046.5 L186.2 2036.5 L206 2057 L186.2 2077.5 L186.2 2067.5 L162 2067.5 Z" fill="#fff" stroke="#ed7d31" stroke-width="2.6" stroke-linejoin="miter"/>
<line x1="270.5" y1="1788.9" x2="270.5" y2="2292.9" stroke="#70ad47" stroke-width="2.9" />
<line x1="318.6" y1="1788.9" x2="318.6" y2="2292.9" stroke="#70ad47" stroke-width="2.9" />
<line x1="367.1" y1="1788.9" x2="367.1" y2="2292.9" stroke="#70ad47" stroke-width="2.9" />
<line x1="413.8" y1="1788.9" x2="413.8" y2="2292.9" stroke="#70ad47" stroke-width="2.9" />
<line x1="221.3" y1="1860.9" x2="468.9" y2="1860.9" stroke="#70ad47" stroke-width="2.9" />
<line x1="221.3" y1="1933.6" x2="468.9" y2="1933.6" stroke="#70ad47" stroke-width="2.9" />
<line x1="221.3" y1="2008" x2="468.9" y2="2008" stroke="#70ad47" stroke-width="2.9" />
<line x1="221.3" y1="2072.3" x2="468.9" y2="2072.3" stroke="#70ad47" stroke-width="2.9" />
<line x1="221.3" y1="2146.1" x2="468.9" y2="2146.1" stroke="#70ad47" stroke-width="2.9" />
<line x1="221.3" y1="2218.8" x2="468.9" y2="2218.8" stroke="#70ad47" stroke-width="2.9" />
<rect x="221.3" y="1788.9" width="247.6" height="504" fill="none" stroke="#70ad47" stroke-width="2.9" rx="2.5"/>
<rect x="248.8" y="2037.6" width="3.2" height="2.7" fill="#000"/>
<rect x="256.6" y="2037.6" width="3.2" height="2.7" fill="#000"/>
<rect x="264.4" y="2037.6" width="3.2" height="2.7" fill="#000"/>
<rect x="296.2" y="2037.6" width="3.2" height="2.7" fill="#000"/>
<rect x="304" y="2037.6" width="3.2" height="2.7" fill="#000"/>
<rect x="311.8" y="2037.6" width="3.2" height="2.7" fill="#000"/>
<rect x="344.6" y="2037.6" width="3.2" height="2.7" fill="#000"/>
<rect x="352.4" y="2037.6" width="3.2" height="2.7" fill="#000"/>
<rect x="360.2" y="2037.6" width="3.2" height="2.7" fill="#000"/>
<rect x="392.8" y="2037.6" width="3.2" height="2.7" fill="#000"/>
<rect x="400.6" y="2037.6" width="3.2" height="2.7" fill="#000"/>
<rect x="408.4" y="2037.6" width="3.2" height="2.7" fill="#000"/>
<rect x="440.2" y="2037.6" width="3.2" height="2.7" fill="#000"/>
<rect x="448" y="2037.6" width="3.2" height="2.7" fill="#000"/>
<rect x="455.8" y="2037.6" width="3.2" height="2.7" fill="#000"/>
<path d="M501 2045.1 L526.9 2045.1 L526.9 2035.1 L546 2055.6 L526.9 2076.1 L526.9 2066.1 L501 2066.1 Z" fill="#fff" stroke="#70ad47" stroke-width="2.6" stroke-linejoin="miter"/>
<line x1="1167" y1="1825.9" x2="1411.7" y2="1825.7" stroke="#000" stroke-width="2.7" stroke-dasharray="2.7 4" marker-end="url(#ah)"/>
<line x1="1167" y1="1825.9" x2="1412.8" y2="1939.8" stroke="#000" stroke-width="2.7" stroke-dasharray="2.7 4" marker-end="url(#ah)"/>
<line x1="1167" y1="1825.9" x2="1413.8" y2="2043.4" stroke="#000" stroke-width="2.7" stroke-dasharray="2.7 4" marker-end="url(#ah)"/>
<line x1="1167" y1="1825.9" x2="1414.5" y2="2157.6" stroke="#000" stroke-width="2.7" stroke-dasharray="2.7 4" marker-end="url(#ah)"/>
<line x1="1167" y1="1825.9" x2="1419.8" y2="2259.4" stroke="#000" stroke-width="2.7" stroke-dasharray="2.7 4" marker-end="url(#ah)"/>
<line x1="1164" y1="1896" x2="1411.7" y2="1825.7" stroke="#000" stroke-width="2.7" stroke-dasharray="2.7 4" marker-end="url(#ah)"/>
<line x1="1164" y1="1896" x2="1412.8" y2="1939.8" stroke="#000" stroke-width="2.7" stroke-dasharray="2.7 4" marker-end="url(#ah)"/>
<line x1="1164" y1="1896" x2="1413.8" y2="2043.4" stroke="#000" stroke-width="2.7" stroke-dasharray="2.7 4" marker-end="url(#ah)"/>
<line x1="1164" y1="1896" x2="1414.5" y2="2157.6" stroke="#000" stroke-width="2.7" stroke-dasharray="2.7 4" marker-end="url(#ah)"/>
<line x1="1164" y1="1896" x2="1419.8" y2="2259.4" stroke="#000" stroke-width="2.7" stroke-dasharray="2.7 4" marker-end="url(#ah)"/>
<line x1="1164" y1="1969" x2="1411.7" y2="1825.7" stroke="#000" stroke-width="2.7" stroke-dasharray="2.7 4" marker-end="url(#ah)"/>
<line x1="1164" y1="1969" x2="1412.8" y2="1939.8" stroke="#000" stroke-width="2.7" stroke-dasharray="2.7 4" marker-end="url(#ah)"/>
<line x1="1164" y1="1969" x2="1413.8" y2="2043.4" stroke="#000" stroke-width="2.7" stroke-dasharray="2.7 4" marker-end="url(#ah)"/>
<line x1="1164" y1="1969" x2="1414.5" y2="2157.6" stroke="#000" stroke-width="2.7" stroke-dasharray="2.7 4" marker-end="url(#ah)"/>
<line x1="1164" y1="1969" x2="1419.8" y2="2259.4" stroke="#000" stroke-width="2.7" stroke-dasharray="2.7 4" marker-end="url(#ah)"/>
<line x1="1164" y1="2040.2" x2="1411.7" y2="1825.7" stroke="#000" stroke-width="2.7" stroke-dasharray="2.7 4" marker-end="url(#ah)"/>
<line x1="1164" y1="2040.2" x2="1412.8" y2="1939.8" stroke="#000" stroke-width="2.7" stroke-dasharray="2.7 4" marker-end="url(#ah)"/>
<line x1="1164" y1="2040.2" x2="1413.8" y2="2043.4" stroke="#000" stroke-width="2.7" stroke-dasharray="2.7 4" marker-end="url(#ah)"/>
<line x1="1164" y1="2040.2" x2="1414.5" y2="2157.6" stroke="#000" stroke-width="2.7" stroke-dasharray="2.7 4" marker-end="url(#ah)"/>
<line x1="1164" y1="2040.2" x2="1419.8" y2="2259.4" stroke="#000" stroke-width="2.7" stroke-dasharray="2.7 4" marker-end="url(#ah)"/>
<line x1="1164" y1="2114.1" x2="1411.7" y2="1825.7" stroke="#000" stroke-width="2.7" stroke-dasharray="2.7 4" marker-end="url(#ah)"/>
<line x1="1164" y1="2114.1" x2="1412.8" y2="1939.8" stroke="#000" stroke-width="2.7" stroke-dasharray="2.7 4" marker-end="url(#ah)"/>
<line x1="1164" y1="2114.1" x2="1413.8" y2="2043.4" stroke="#000" stroke-width="2.7" stroke-dasharray="2.7 4" marker-end="url(#ah)"/>
<line x1="1164" y1="2114.1" x2="1414.5" y2="2157.6" stroke="#000" stroke-width="2.7" stroke-dasharray="2.7 4" marker-end="url(#ah)"/>
<line x1="1164" y1="2114.1" x2="1419.8" y2="2259.4" stroke="#000" stroke-width="2.7" stroke-dasharray="2.7 4" marker-end="url(#ah)"/>
<line x1="1164" y1="2189.4" x2="1411.7" y2="1825.7" stroke="#000" stroke-width="2.7" stroke-dasharray="2.7 4" marker-end="url(#ah)"/>
<line x1="1164" y1="2189.4" x2="1412.8" y2="1939.8" stroke="#000" stroke-width="2.7" stroke-dasharray="2.7 4" marker-end="url(#ah)"/>
<line x1="1164" y1="2189.4" x2="1413.8" y2="2043.4" stroke="#000" stroke-width="2.7" stroke-dasharray="2.7 4" marker-end="url(#ah)"/>
<line x1="1164" y1="2189.4" x2="1414.5" y2="2157.6" stroke="#000" stroke-width="2.7" stroke-dasharray="2.7 4" marker-end="url(#ah)"/>
<line x1="1164" y1="2189.4" x2="1419.8" y2="2259.4" stroke="#000" stroke-width="2.7" stroke-dasharray="2.7 4" marker-end="url(#ah)"/>
<line x1="1164" y1="2259.4" x2="1411.7" y2="1825.7" stroke="#000" stroke-width="2.7" stroke-dasharray="2.7 4" marker-end="url(#ah)"/>
<line x1="1164" y1="2259.4" x2="1412.8" y2="1939.8" stroke="#000" stroke-width="2.7" stroke-dasharray="2.7 4" marker-end="url(#ah)"/>
<line x1="1164" y1="2259.4" x2="1413.8" y2="2043.4" stroke="#000" stroke-width="2.7" stroke-dasharray="2.7 4" marker-end="url(#ah)"/>
<line x1="1164" y1="2259.4" x2="1414.5" y2="2157.6" stroke="#000" stroke-width="2.7" stroke-dasharray="2.7 4" marker-end="url(#ah)"/>
<line x1="1164" y1="2259.4" x2="1419.8" y2="2259.4" stroke="#000" stroke-width="2.7" stroke-dasharray="2.7 4" marker-end="url(#ah)"/>
<rect x="588.9" y="1804.4" width="578.1" height="43" fill="#fff" stroke="#000" stroke-width="3" />
<text x="878.5" y="1836.2" font-size="26.8" text-anchor="middle" font-family='"Liberation Sans", sans-serif' fill="#000" >GRU cell</text>
<rect x="588.9" y="1874.4" width="575.1" height="43.1" fill="#fff" stroke="#000" stroke-width="3" />
<text x="876.6" y="1905.5" font-size="26.8" text-anchor="middle" font-family='"Liberation Sans", sans-serif' fill="#000" >GRU cell</text>
<rect x="589.2" y="1947.5" width="574.8" height="43.1" fill="#fff" stroke="#000" stroke-width="3" />
<text x="876.6" y="1978.6" font-size="26.8" text-anchor="middle" font-family='"Liberation Sans", sans-serif' fill="#000" >GRU cell</text>
<rect x="588.9" y="2018.7" width="575.1" height="43.1" fill="#fff" stroke="#000" stroke-width="3" />
<rect x="587" y="2092.9" width="577" height="42.3" fill="#fff" stroke="#000" stroke-width="3" />
<text x="876.6" y="2123.6" font-size="26.8" text-anchor="middle" font-family='"Liberation Sans", sans-serif' fill="#000" >GRU cell</text>
<rect x="587" y="2167.8" width="577" height="43.1" fill="#fff" stroke="#000" stroke-width="3" />
<text x="876.6" y="2198.5" font-size="26.8" text-anchor="middle" font-family='"Liberation Sans", sans-serif' fill="#000" >GRU cell</text>
<rect x="585.5" y="2237.9" width="578.5" height="43" fill="#fff" stroke="#000" stroke-width="3" />
<text x="874.8" y="2269" font-size="26.8" text-anchor="middle" font-family='"Liberation Sans", sans-serif' fill="#000" >GRU cell</text>
<rect x="850.9" y="2042" width="2.4" height="2" fill="#808080"/>
<rect x="860.3" y="2042" width="2.4" height="2" fill="#808080"/>
<rect x="869.7" y="2042" width="2.4" height="2" fill="#808080"/>
<rect x="879.1" y="2042" width="2.4" height="2" fill="#808080"/>
<rect x="888.5" y="2042" width="2.4" height="2" fill="#808080"/>
<rect x="897.9" y="2042" width="2.4" height="2" fill="#808080"/>
<line x1="882.2" y1="1848.9" x2="882.2" y2="1858.9" stroke="#000" stroke-width="3" />
<path d="M872.7 1855.9 L891.7 1855.9 L882.2 1872.9 Z" fill="#000" stroke="none" stroke-width="0" />
<line x1="880.3" y1="1919" x2="880.3" y2="1932" stroke="#000" stroke-width="3" />
<path d="M870.8 1929 L889.8 1929 L880.3 1946 Z" fill="#000" stroke="none" stroke-width="0" />
<line x1="879.6" y1="1992.1" x2="879.6" y2="2003.2" stroke="#000" stroke-width="3" />
<path d="M870.1 2000.2 L889.1 2000.2 L879.6 2017.2 Z" fill="#000" stroke="none" stroke-width="0" />
<line x1="880.3" y1="2063.3" x2="880.3" y2="2077.4" stroke="#000" stroke-width="3" />
<path d="M870.8 2074.4 L889.8 2074.4 L880.3 2091.4 Z" fill="#000" stroke="none" stroke-width="0" />
<line x1="878.5" y1="2136.7" x2="878.5" y2="2152.3" stroke="#000" stroke-width="3" />
<path d="M869 2149.3 L888 2149.3 L878.5 2166.3 Z" fill="#000" stroke="none" stroke-width="0" />
<line x1="876.6" y1="2212.4" x2="876.6" y2="2222.4" stroke="#000" stroke-width="3" />
<path d="M867.1 2219.4 L886.1 2219.4 L876.6 2236.4 Z" fill="#000" stroke="none" stroke-width="0" />
<circle cx="1435.2" cy="1825.7" r="22.3" fill="none" stroke="#0070c0" stroke-width="2.5"/>
<line x1="1457.2" y1="1825.7" x2="1706.7" y2="2047" stroke="#000" stroke-width="3" stroke-dasharray="12 9" />
<circle cx="1436.3" cy="1939.8" r="22.3" fill="none" stroke="#0070c0" stroke-width="2.5"/>
<line x1="1458.3" y1="1939.8" x2="1706.7" y2="2047" stroke="#000" stroke-width="3" stroke-dasharray="12 9" />
<circle cx="1437.3" cy="2043.4" r="22.3" fill="none" stroke="#0070c0" stroke-width="2.5"/>
<line x1="1459.3" y1="2043.4" x2="1706.7" y2="2047" stroke="#000" stroke-width="3" stroke-dasharray="12 9" />
<circle cx="1438" cy="2157.6" r="22.3" fill="none" stroke="#0070c0" stroke-width="2.5"/>
<line x1="1460" y1="2157.6" x2="1706.7" y2="2047" stroke="#000" stroke-width="3" stroke-dasharray="12 9" />
<circle cx="1443.3" cy="2259.4" r="22.3" fill="none" stroke="#0070c0" stroke-width="2.5"/>
<line x1="1465.3" y1="2259.4" x2="1706.7" y2="2047" stroke="#000" stroke-width="3" stroke-dasharray="12 9" />
<rect x="1428.2" y="1880.8" width="2.6" height="2.2" fill="#6fa6dc"/>
<rect x="1436.7" y="1880.8" width="2.6" height="2.2" fill="#6fa6dc"/>
<rect x="1445.2" y="1880.8" width="2.6" height="2.2" fill="#6fa6dc"/>
<rect x="1428.2" y="1985.4" width="2.6" height="2.2" fill="#6fa6dc"/>
<rect x="1436.7" y="1985.4" width="2.6" height="2.2" fill="#6fa6dc"/>
<rect x="1445.2" y="1985.4" width="2.6" height="2.2" fill="#6fa6dc"/>
<rect x="1428.2" y="2095.7" width="2.6" height="2.2" fill="#6fa6dc"/>
<rect x="1436.7" y="2095.7" width="2.6" height="2.2" fill="#6fa6dc"/>
<rect x="1445.2" y="2095.7" width="2.6" height="2.2" fill="#6fa6dc"/>
<rect x="1428.2" y="2212" width="2.6" height="2.2" fill="#6fa6dc"/>
<rect x="1436.7" y="2212" width="2.6" height="2.2" fill="#6fa6dc"/>
<rect x="1445.2" y="2212" width="2.6" height="2.2" fill="#6fa6dc"/>
<circle cx="1727.6" cy="2049.6" r="19.5" fill="none" stroke="#7030a0" stroke-width="2.4"/>
<text x="108.3" y="2388.4" font-size="26.8" text-anchor="middle" font-family='"Liberation Sans", sans-serif' fill="#000" >Sequences</text>
<text x="379.6" y="2388.4" font-size="26.8" text-anchor="middle" font-family='"Liberation Sans", sans-serif' fill="#000" >5D&#160;&#160;word embedding</text>
<text x="903.2" y="2374.8" font-size="26.8" text-anchor="middle" font-family='"Liberation Sans", sans-serif' fill="#000" >32 units</text>
<text x="1400.9" y="2388.4" font-size="26.8" text-anchor="middle" font-family='"Liberation Sans", sans-serif' fill="#000" >128 units</text>
<text x="1695.6" y="2384.3" font-size="26.8" text-anchor="middle" font-family='"Liberation Sans", sans-serif' fill="#000" >Sigmoid</text>
<line x1="38.9" y1="2420.3" x2="192.6" y2="2420.3" stroke="#ed7d31" stroke-width="4.2" />
<line x1="224.2" y1="2420.3" x2="508.2" y2="2420.3" stroke="#70ad47" stroke-width="4.2" />
<line x1="588.7" y1="2423.2" x2="1233" y2="2419.1" stroke="#000" stroke-width="4.2" />
<line x1="1286.9" y1="2416.2" x2="1584" y2="2419.9" stroke="#0070c0" stroke-width="4.2" />
<line x1="1623" y1="2415.4" x2="1814.3" y2="2415.4" stroke="#7030a0" stroke-width="4.2" />
<text x="115.9" y="2476.5" font-size="33.3" text-anchor="middle" font-family='"Liberation Sans", sans-serif' fill="#000" >Input&#160;&#160;layer</text>
<text x="390.7" y="2476.5" font-size="33.3" text-anchor="middle" font-family='"Liberation Sans", sans-serif' fill="#000" >Embedding&#160;&#160;layer</text>
<text x="901.1" y="2476.5" font-size="33.3" text-anchor="middle" font-family='"Liberation Sans", sans-serif' fill="#000" >Recurrent&#160;&#160;layer</text>
<text x="1444.6" y="2476.5" font-size="33.3" text-anchor="middle" font-family='"Liberation Sans", sans-serif' fill="#000" >Fully connected layer</text>
<text x="1727" y="2476.5" font-size="33.3" text-anchor="middle" font-family='"Liberation Sans", sans-serif' fill="#000" >Output layer</text>
</svg>
</body></html>
